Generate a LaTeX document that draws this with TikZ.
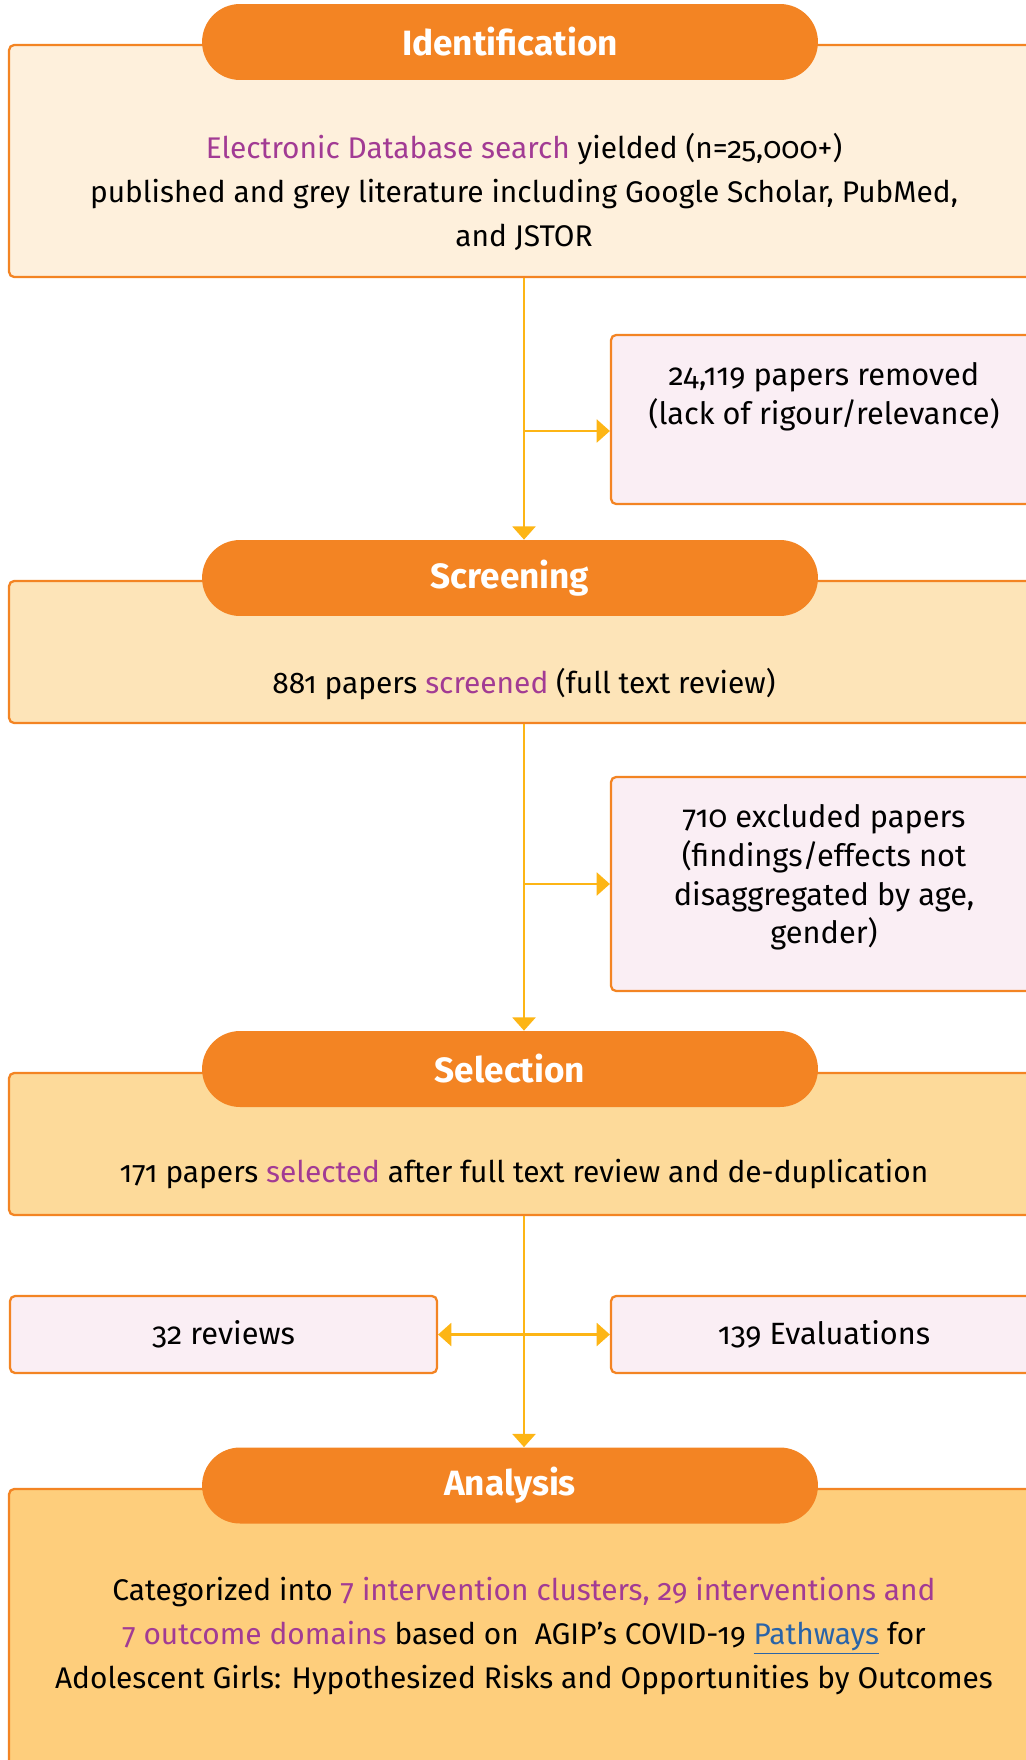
\documentclass[tikz,border=0pt]{standalone}
\usepackage{fontspec}
\setmainfont{Fira Sans}[Numbers=OldStyle]
\usetikzlibrary{arrows.meta,positioning}
\definecolor{Pumpkin}{HTML}{F38423}
\definecolor{Cream}{HTML}{FEF0DC}
\definecolor{Sand}{HTML}{FDE4B8}
\definecolor{Wheat}{HTML}{FDDA9A}
\definecolor{Apricot}{HTML}{FECE7C}
\definecolor{Blush}{HTML}{FAEEF4}
\definecolor{Gold}{HTML}{FDB515}
\definecolor{Plum}{HTML}{A23B94}
\definecolor{LinkBlue}{HTML}{2A64A8}

\begin{document}
\begin{tikzpicture}[x=0.02cm,y=-0.02cm,>={Triangle[length=7.5pt,width=13pt]},
  stage/.style={draw=Pumpkin,line width=1.3pt,rounded corners=0.1cm,
    minimum width=20.6cm,inner sep=0pt},
  pill/.style={fill=Pumpkin,rounded corners=0.76cm,minimum width=12.32cm,
    minimum height=1.52cm,text=white,font=\fontsize{20}{24}\selectfont\bfseries},
  body/.style={align=center,font=\fontsize{17}{25}\selectfont},
  sidebox/.style={draw=Pumpkin,fill=Blush,line width=1.3pt,rounded corners=0.1cm,
    minimum width=8.52cm,align=center,font=\fontsize{17.5}{22}\selectfont},
  flow/.style={Gold,line width=1.5pt}]
  \clip (0,0) rectangle (1026,1760);

  % identification
  \node[stage,fill=Cream,minimum height=4.64cm] (identbox) at (524,161) {};
  \node[pill] (identpill) at (510,42) {Identification};
  \node[body] (identtxt) at (524,192)
    {{\color{Plum}Electronic Database search} yielded (n=25,000+)\\
     published and grey literature including Google Scholar, PubMed,\\
     and JSTOR};
  \node[sidebox,minimum height=3.38cm,text depth=30pt] (removed) at (824,419.5)
    {24,119 papers removed\\(lack of rigour/relevance)};

  % screening
  \node[stage,fill=Sand,minimum height=2.84cm] (screenbox) at (524,652) {};
  \node[pill] (screenpill) at (510,578) {Screening};
  \node[body] (screentxt) at (524,684)
    {881 papers {\color{Plum}screened} (full text review)};
  \node[sidebox,minimum height=4.28cm,text depth=11pt] (excluded) at (824,884)
    {710 excluded papers\\(findings/effects not\\disaggregated by age,\\gender)};

  % selection
  \node[stage,fill=Wheat,minimum height=2.84cm] (selectbox) at (524,1144) {};
  \node[pill] (selectpill) at (510,1069) {Selection};
  \node[body] (selecttxt) at (524,1174)
    {171 papers {\color{Plum}selected} after full text review and de-duplication};
  \node[sidebox,minimum width=8.54cm,minimum height=1.54cm] (reviews) at (223.5,1334.5)
    {32 reviews};
  \node[sidebox,minimum height=1.54cm] (evals) at (824,1334.5)
    {139 Evaluations};

  % analysis
  \node[stage,fill=Apricot,minimum height=5.88cm] (analysisbox) at (524,1636) {};
  \node[pill] (analysispill) at (510,1485.5) {Analysis};
  \node[body] (analysistxt) at (524,1636)
    {Categorized into {\color{Plum}7 intervention clusters, 29 interventions and}\\
     {\color{Plum}7 outcome domains} based on\ \ AGIP’s COVID-19
     {\color{LinkBlue}\underline{Pathways}} for\\
     Adolescent Girls: Hypothesized Risks and Opportunities by Outcomes};

  % flow lines
  \coordinate (rmv) at ([yshift=-0.23cm]removed.west);
  \draw[flow,->] (identbox.south) -- (identbox.south |- screenpill.north);
  \draw[flow,->] (rmv -| identbox.south) -- (rmv);
  \draw[flow,->] (screenbox.south) -- (screenbox.south |- selectpill.north);
  \draw[flow,->] (excluded.west -| screenbox.south) -- (excluded.west);
  \draw[flow,->] (selectbox.south) -- (selectbox.south |- analysispill.north);
  \draw[flow,<->] (reviews.east) -- (evals.west);
\end{tikzpicture}
\end{document}
